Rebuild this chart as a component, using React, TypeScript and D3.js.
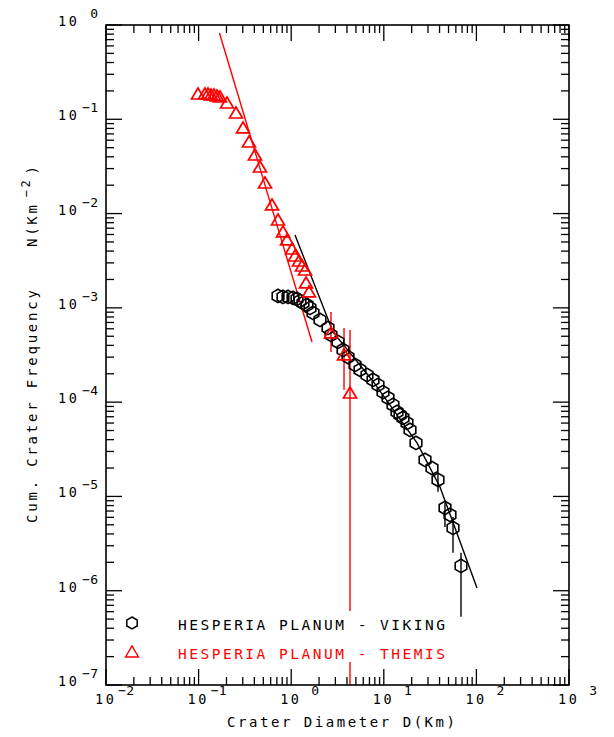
import * as d3 from "d3";

// THEMIS counts (red triangles)
const themisD = [0.0985, 0.117, 0.1263, 0.136, 0.1466, 0.158, 0.1703, 0.2026, 0.2534, 0.3016, 0.3501, 0.4064, 0.4603, 0.5212, 0.6205, 0.7205, 0.8154, 0.901, 1.02, 1.099, 1.214, 1.308, 1.409, 1.445, 1.557, 2.69, 3.72, 4.315];
const themisN = [0.1855, 0.1855, 0.1855, 0.181, 0.181, 0.1767, 0.1724, 0.1489, 0.1166, 0.0809, 0.0574, 0.0418, 0.0312, 0.0211, 0.01234, 0.00855, 0.00638, 0.00525, 0.00421, 0.00355, 0.00314, 0.00278, 0.00252, 0.001837, 0.001474, 5.42e-4, 3.17e-4, 1.25e-4];
const themisBarD = [2.69, 3.72, 4.315];
const themisBarHi = [9.05e-4, 6.12e-4, 5.83e-4];
const themisBarLo = [3.41e-4, 1.35e-4, 1e-7];
const themisFitD = [0.168, 1.677];
const themisFitN = [0.822, 4.35e-4];

// VIKING counts (black hexagons)
const vikingD = [0.7205, 0.8154, 0.9235, 1.046, 1.155, 1.245, 1.341, 1.481, 1.596, 1.72, 2.046, 2.497, 2.69, 3.202, 3.626, 4.107, 4.887, 5.534, 6.584, 7.646, 8.659, 9.8, 11.1, 12.57, 13.88, 14.96, 16.12, 17.8, 19.19, 22.27, 27.86, 33.16, 38.48, 45.8, 51.86, 55.9, 68.2];
const vikingN = [1.337e-3, 1.305e-3, 1.305e-3, 1.274e-3, 1.243e-3, 1.184e-3, 1.127e-3, 1.073e-3, 9.97e-4, 8.83e-4, 7.44e-4, 6.12e-4, 5.16e-4, 4.35e-4, 3.58e-4, 3.01e-4, 2.48e-4, 2.2e-4, 1.94e-4, 1.72e-4, 1.52e-4, 1.28e-4, 1.11e-4, 9.34e-5, 7.87e-5, 7.31e-5, 6.8e-5, 6.02e-5, 5.07e-5, 3.69e-5, 2.44e-5, 2.0e-5, 1.5e-5, 7.55e-6, 6.37e-6, 4.63e-6, 1.83e-6];
const vikingBarD = [38.48, 45.8, 55.9, 68.2];
const vikingBarHi = [1.82e-5, 8.53e-6, 6.06e-6, 2.52e-6];
const vikingBarLo = [1.12e-5, 4.75e-6, 2.52e-6, 5.28e-7];
const vikingFitD = [1.099, 2.827, 7.458, 22.83, 40.45, 101.5];
const vikingFitN = [5.93e-3, 5.55e-4, 1.72e-4, 3.69e-5, 1.26e-5, 1.07e-6];

const xTickExps = [-2, -1, 0, 1, 2, 3];
const yTickExps = [0, -1, -2, -3, -4, -5, -6, -7];

const legendLabels = ["HESPERIA PLANUM - VIKING", "HESPERIA PLANUM - THEMIS"];

const RED = "#ff0000";
const FONT = "'DejaVu Sans Mono', 'Liberation Mono', monospace";

const L = 106, R = 569, T = 25, B = 685;

const x = d3.scaleLog().domain([1e-2, 1e3]).range([L, R]);
const y = d3.scaleLog().domain([1, 1e-7]).range([T, B]);

const hexPath = (cx: number, cy: number, r = 6.7) => {
  const pts = d3.range(6).map((i) => {
    const a = ((-90 + i * 60) * Math.PI) / 180;
    return [cx + r * Math.cos(a), cy + r * Math.sin(a)];
  });
  return "M" + pts.map((p) => p.join(",")).join("L") + "Z";
};

const triPath = (cx: number, cy: number) =>
  `M${cx - 6.5},${cy + 5}L${cx},${cy - 6}L${cx + 6.5},${cy + 5}Z`;

const line = d3
  .line<[number, number]>()
  .x((d) => x(d[0]))
  .y((d) => y(d[1]));

const expStr = (e: number) => (e < 0 ? "\u2212" + Math.abs(e) : String(e));

export default function App() {
  const majorLen = 16;
  const minorLen = 8;

  const xMinor: number[] = [];
  for (let e = -2; e < 3; e++) for (let m = 2; m <= 9; m++) xMinor.push(m * Math.pow(10, e));
  const yMinor: number[] = [];
  for (let e = -7; e < 0; e++) for (let m = 2; m <= 9; m++) yMinor.push(m * Math.pow(10, e));

  return (
    <svg
      width={614}
      height={737}
      style={{ position: "absolute", left: 0, top: 0, background: "#fff" }}
      fontFamily={FONT}
    >
      <defs>
        <clipPath id="plot">
          <rect x={L} y={T} width={R - L} height={B - T} />
        </clipPath>
      </defs>

      {/* ticks */}
      <g stroke="#000" strokeWidth={1.3}>
        {xTickExps.map((e) => {
          const px = x(Math.pow(10, e));
          return (
            <g key={"xm" + e}>
              <line x1={px} x2={px} y1={B} y2={B - majorLen} />
              <line x1={px} x2={px} y1={T} y2={T + majorLen} />
            </g>
          );
        })}
        {xMinor.map((v, i) => (
          <g key={"xn" + i}>
            <line x1={x(v)} x2={x(v)} y1={B} y2={B - minorLen} />
            <line x1={x(v)} x2={x(v)} y1={T} y2={T + minorLen} />
          </g>
        ))}
        {yTickExps.map((e) => {
          const py = y(Math.pow(10, e));
          return (
            <g key={"ym" + e}>
              <line x1={L} x2={L + majorLen} y1={py} y2={py} />
              <line x1={R} x2={R - majorLen} y1={py} y2={py} />
            </g>
          );
        })}
        {yMinor.map((v, i) => (
          <g key={"yn" + i}>
            <line x1={L} x2={L + minorLen} y1={y(v)} y2={y(v)} />
            <line x1={R} x2={R - minorLen} y1={y(v)} y2={y(v)} />
          </g>
        ))}
      </g>

      {/* tick labels */}
      <g fill="#000" fontSize={13.5}>
        {xTickExps.map((e) => {
          const px = x(Math.pow(10, e));
          return (
            <g key={"xl" + e}>
              <text x={px - 11} y={704} letterSpacing={2.5}>10</text>
              <text x={px + 28} y={695} textAnchor="end" fontSize={13}>{expStr(e)}</text>
            </g>
          );
        })}
        {yTickExps.map((e) => {
          const py = y(Math.pow(10, e));
          return (
            <g key={"yl" + e}>
              <text x={58} y={py + 1} letterSpacing={2.5}>10</text>
              <text x={98} y={py - 7} textAnchor="end" fontSize={13}>{expStr(e)}</text>
            </g>
          );
        })}
      </g>

      {/* data */}
      <g clipPath="url(#plot)">
        <path d={line(themisFitD.map((d, i) => [d, themisFitN[i]]) as any) || ""} fill="none" stroke={RED} strokeWidth={1.4} />
        <path d={line(vikingFitD.map((d, i) => [d, vikingFitN[i]]) as any) || ""} fill="none" stroke="#000" strokeWidth={1.4} />

        {themisBarD.map((d, i) => (
          <line key={"tb" + i} x1={x(d)} x2={x(d)} y1={y(themisBarHi[i])} y2={y(themisBarLo[i])} stroke={RED} strokeWidth={1.4} />
        ))}
        {vikingBarD.map((d, i) => (
          <line key={"vb" + i} x1={x(d)} x2={x(d)} y1={y(vikingBarHi[i])} y2={y(vikingBarLo[i])} stroke="#000" strokeWidth={1.4} />
        ))}

        {vikingD.map((d, i) => (
          <path key={"v" + i} d={hexPath(x(d), y(vikingN[i]))} fill="none" stroke="#000" strokeWidth={1.6} />
        ))}
        {themisD.map((d, i) => (
          <path key={"t" + i} d={triPath(x(d), y(themisN[i]))} fill="none" stroke={RED} strokeWidth={1.7} />
        ))}
      </g>

      {/* legend */}
      <rect x={120} y={611} width={335} height={51} fill="#fff" />
      <path d={hexPath(132, 623, 6)} fill="none" stroke="#000" strokeWidth={1.5} />
      <path d={triPath(132, 652)} fill="none" stroke={RED} strokeWidth={1.4} />
      <text x={178} y={630} fontSize={14.5} textLength={267} lengthAdjust="spacing" fill="#000">{legendLabels[0]}</text>
      <text x={178} y={659} fontSize={14.5} textLength={267} lengthAdjust="spacing" fill={RED}>{legendLabels[1]}</text>

      {/* frame */}
      <rect x={L} y={T} width={R - L} height={B - T} fill="none" stroke="#000" strokeWidth={1.6} />

      {/* axis titles */}
      <text x={227} y={727} fontSize={14} textLength={228} lengthAdjust="spacing" fill="#000">Crater Diameter D(Km)</text>
      <text transform="translate(37,523) rotate(-90)" fontSize={14} textLength={233} lengthAdjust="spacing" fill="#000">Cum. Crater Frequency</text>
      <text transform="translate(37,247) rotate(-90)" fontSize={14} letterSpacing={2.7} fill="#000">
        N(Km
        <tspan dx={5} dy={-7} fontSize={12}>{"\u2212"}2</tspan>
        <tspan dx={3} dy={7}>)</tspan>
      </text>
    </svg>
  );
}
